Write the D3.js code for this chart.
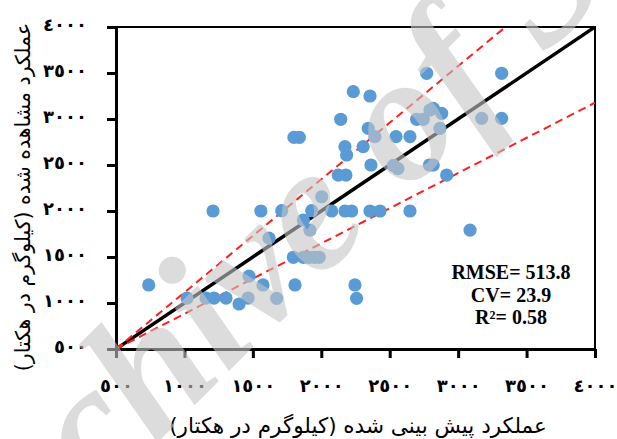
<!DOCTYPE html>
<html>
<head>
<meta charset="utf-8">
<script src="https://cdn.jsdelivr.net/npm/d3@7"></script>
<style>
  body { margin: 0; background: #fff; }
  svg { display: block; }
</style>
</head>
<body>
<div id="chart"></div>
<script>
// predicted yield (x) and observed yield (y), kg/ha
const predicted = [739, 1019, 1158, 1216, 1304, 1209, 1399, 1465, 1472, 1574,
  1559, 1618, 1674, 1711, 1796, 1808, 1800, 1840, 1869, 1910,
  1950, 1985, 1869, 1917, 1930, 2003, 2076, 2173, 2222, 2356,
  2429, 2648, 2124, 2180, 2142, 2173, 2185, 2234, 2246, 2258,
  2306, 2343, 2356, 2392, 2363, 2546, 2648, 2528, 2560, 2697,
  2745, 2770, 2794, 2818, 2880, 2867, 2790, 2818, 2916, 3087,
  3172, 3318, 3318];
const observed = [1196, 1054, 1054, 1054, 1054, 2000, 989, 1054, 1293, 1196,
  2000, 1706, 1051, 2003, 1497, 1196, 2800, 2800, 1497, 1497,
  1497, 1497, 1902, 1793, 2003, 2155, 2000, 2000, 2000, 2000,
  2000, 2000, 2391, 2391, 2997, 2699, 2609, 3297, 1196, 1051,
  2699, 2899, 3250, 2808, 2500, 2808, 2808, 2495, 2460, 2997,
  2997, 3497, 3098, 3116, 3062, 2899, 2500, 2500, 2391, 1793,
  3007, 3497, 3007];

const tickValues = [500, 1000, 1500, 2000, 2500, 3000, 3500, 4000];
const tickLabels = ["٥٠٠", "١٠٠٠", "١٥٠٠", "٢٠٠٠", "٢٥٠٠", "٣٠٠٠", "٣٥٠٠", "٤٠٠٠"];

// 1:1 line and the two bounds
const refLines = [
  { slope: 1, color: "#000", width: 3.5, dash: null },
  { slope: 1.23, color: "#ff1f1f", width: 2, dash: "8,5" },
  { slope: 0.765, color: "#ff1f1f", width: 2, dash: "8,5" }
];

const stats = ["RMSE= 513.8", "CV= 23.9", "R²= 0.58"];
const xTitle = "عملکرد پیش بینی شده (کیلوگرم در هکتار)";
const yTitle = "عملکرد مشاهده شده (کیلوگرم در هکتار)";

const width = 617, height = 439;
const margin = { top: 27, right: 22, bottom: 90, left: 116 };

const svg = d3.select("#chart").append("svg")
  .attr("width", width)
  .attr("height", height);

const x = d3.scaleLinear().domain([500, 4000]).range([margin.left, width - margin.right]);
const y = d3.scaleLinear().domain([500, 4000]).range([height - margin.bottom, margin.top]);

// frame (top / right)
svg.append("rect")
  .attr("x", x(500)).attr("y", y(4000))
  .attr("width", x(4000) - x(500)).attr("height", y(500) - y(4000))
  .attr("fill", "none").attr("stroke", "#000").attr("stroke-width", 2);

svg.append("defs").append("clipPath").attr("id", "plot")
  .append("rect")
  .attr("x", x(500)).attr("y", y(4000))
  .attr("width", x(4000) - x(500)).attr("height", y(500) - y(4000));

// reference lines
svg.append("g").attr("clip-path", "url(#plot)")
  .selectAll("line")
  .data(refLines)
  .enter()
  .append("line")
  .attr("x1", x(500)).attr("y1", y(500))
  .attr("x2", x(4000))
  .attr("y2", d => y(500 + d.slope * 3500))
  .attr("stroke", d => d.color)
  .attr("stroke-width", d => d.width)
  .attr("stroke-dasharray", d => d.dash);

// points
svg.append("g")
  .selectAll("circle")
  .data(predicted.map((p, i) => [p, observed[i]]))
  .enter()
  .append("circle")
  .attr("cx", d => x(d[0]))
  .attr("cy", d => y(d[1]))
  .attr("r", 6.6)
  .attr("fill", "#5b9bd5");

// axes
const xAxis = svg.append("g")
  .attr("transform", `translate(0,${y(500)})`)
  .call(d3.axisBottom(x).tickValues(tickValues)
    .tickFormat((d, i) => tickLabels[i]).tickSize(9).tickPadding(21).tickSizeOuter(0));

const yAxis = svg.append("g")
  .attr("transform", `translate(${x(500)},0)`)
  .call(d3.axisLeft(y).tickValues(tickValues)
    .tickFormat((d, i) => tickLabels[i]).tickSize(9).tickPadding(20).tickSizeOuter(0));

[xAxis, yAxis].forEach(a => {
  a.select(".domain").attr("stroke", "#000").attr("stroke-width", 3);
  a.selectAll(".tick line").attr("stroke", "#000").attr("stroke-width", 3);
  a.selectAll(".tick text")
    .attr("fill", "#000")
    .style("font-family", "'DejaVu Sans', sans-serif")
    .style("font-weight", "bold")
    .style("font-size", "18px")
    .style("letter-spacing", "3px");
});
yAxis.selectAll(".tick text").attr("dy", "0.2em");

// axis titles
svg.append("text")
  .attr("x", 358)
  .attr("y", 433)
  .attr("direction", "rtl")
  .attr("text-anchor", "middle")
  .style("font-family", "'DejaVu Sans', sans-serif")
  .style("font-size", "21.5px")
  .text(xTitle);

svg.append("text")
  .attr("transform", `translate(30,197) rotate(-90)`)
  .attr("direction", "rtl")
  .attr("text-anchor", "middle")
  .style("font-family", "'DejaVu Sans', sans-serif")
  .style("font-size", "20.5px")
  .text(yTitle);

// statistics
svg.append("g")
  .selectAll("text")
  .data(stats)
  .enter()
  .append("text")
  .attr("x", 511)
  .attr("y", (d, i) => 279 + i * 22.5)
  .attr("text-anchor", "middle")
  .style("font-family", "'Liberation Serif', 'Times New Roman', serif")
  .style("font-weight", "bold")
  .style("font-size", "20px")
  .text(d => d);

// watermark
svg.append("text")
  .attr("transform", "translate(360,240) rotate(-45)")
  .attr("text-anchor", "middle")
  .style("font-family", "'Liberation Serif', 'Times New Roman', serif")
  .style("font-style", "italic")
  .style("font-weight", "bold")
  .style("font-size", "180px")
  .attr("fill", "#c4c4c4")
  .attr("fill-opacity", 0.6)
  .text("Archive of SID");
</script>
</body>
</html>
